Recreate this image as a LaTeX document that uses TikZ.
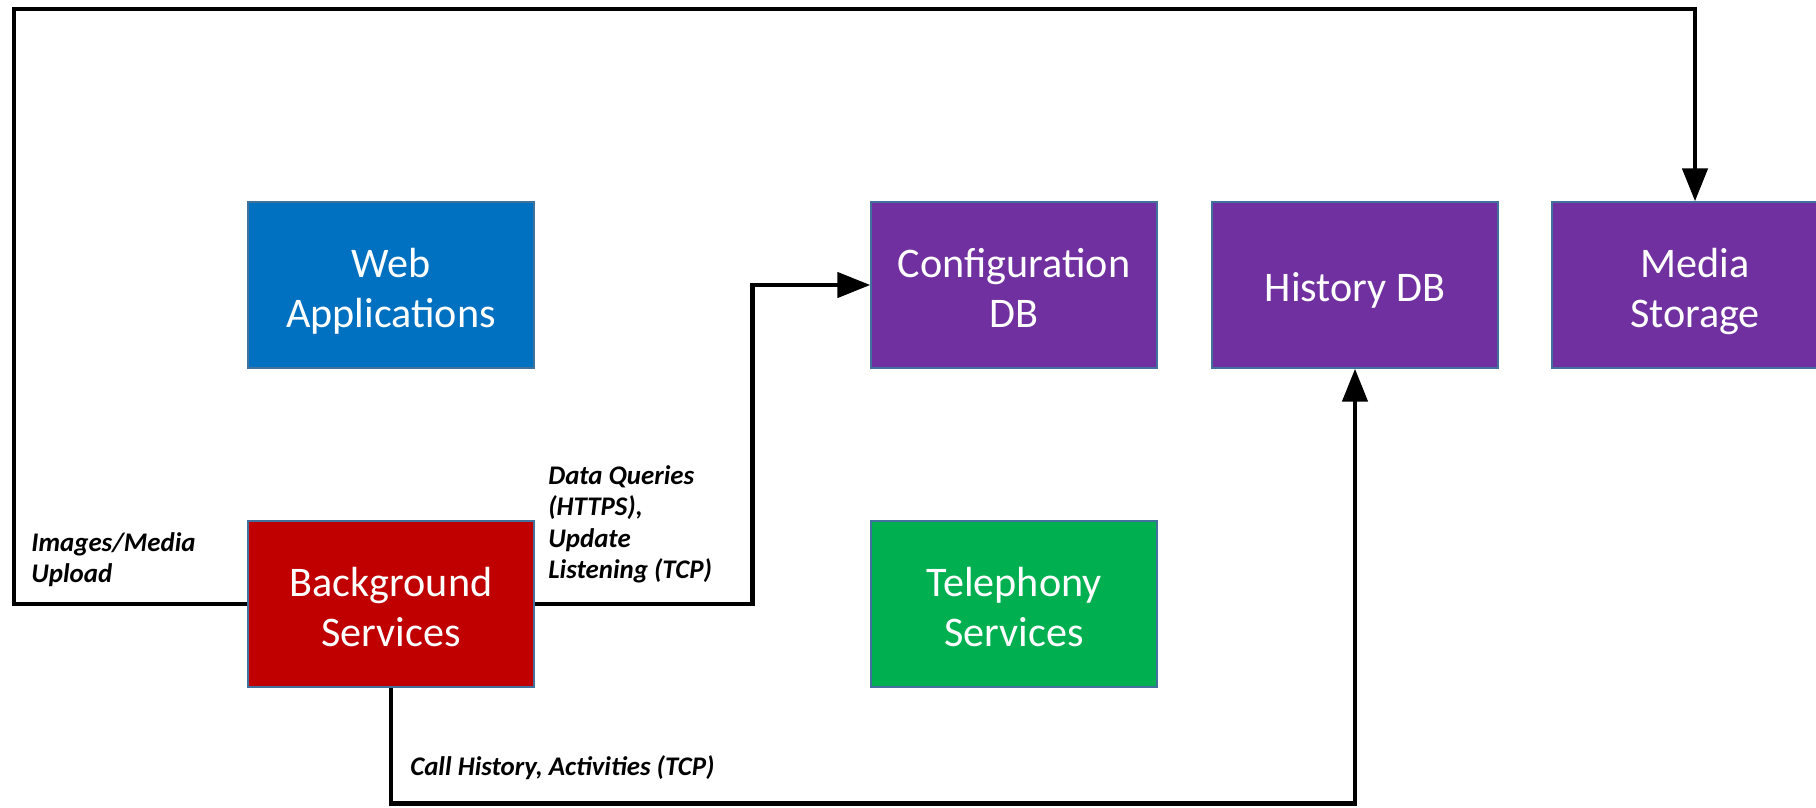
\documentclass[tikz,border=0pt]{standalone}
\usepackage{fontspec}
\setmainfont{Carlito}
\usetikzlibrary{arrows.meta,positioning}
\definecolor{webblue}{HTML}{0070C0}
\definecolor{dbpurple}{HTML}{7030A0}
\definecolor{svcred}{HTML}{C00000}
\definecolor{telgreen}{HTML}{00B050}
\definecolor{edgeblue}{HTML}{41719C}

\begin{document}
\begin{tikzpicture}[x=0.02cm,y=-0.02cm,
    box/.style={draw=edgeblue,line width=0.8pt,minimum width=5.72cm,minimum height=3.32cm,
      align=center,text=white,font=\fontsize{24}{28.2}\selectfont,
      execute at begin node=\rule[-6pt]{0pt}{#1}},
    box/.default=60pt,
    link/.style={line width=2.6pt,-{Triangle[width=0.5cm,length=0.66cm]}},
    note/.style={align=left,anchor=north west,inner sep=0pt,
      font=\fontsize{15.3}{17.9}\selectfont\bfseries\itshape}]
  \useasboundingbox (0,0) rectangle (1816,808);
  \node[box,fill=webblue] (web) at (391,285) {Web\\Applications};
  \node[box,fill=dbpurple] (cfg) at (1014,285) {Configuration\\DB};
  \node[box=31pt,fill=dbpurple] (hist) at (1355,285) {History DB};
  \node[box,fill=dbpurple] (media) at (1695,285) {Media\\Storage};
  \node[box,fill=svcred] (bg) at (391,604) {Background\\Services};
  \node[box,fill=telgreen] (tel) at (1014,604) {Telephony\\Services};
  \coordinate (corner) at (14,9);
  \draw[link] (bg.west) -| (corner) -| (media.north);
  \draw[link] (bg.east) -- ++(218,0) |- (cfg.west);
  \draw[link] (bg.south) -- ++(0,116) -| (hist.south);
  \node[note] (upload) at (31,532) {Images/Media\\Upload};
  \node[note] (queries) at (548,465) {Data Queries\\(HTTPS),\\Update\\Listening (TCP)};
  \node[note] (calls) at (410,755) {Call History, Activities (TCP)};
\end{tikzpicture}
\end{document}
